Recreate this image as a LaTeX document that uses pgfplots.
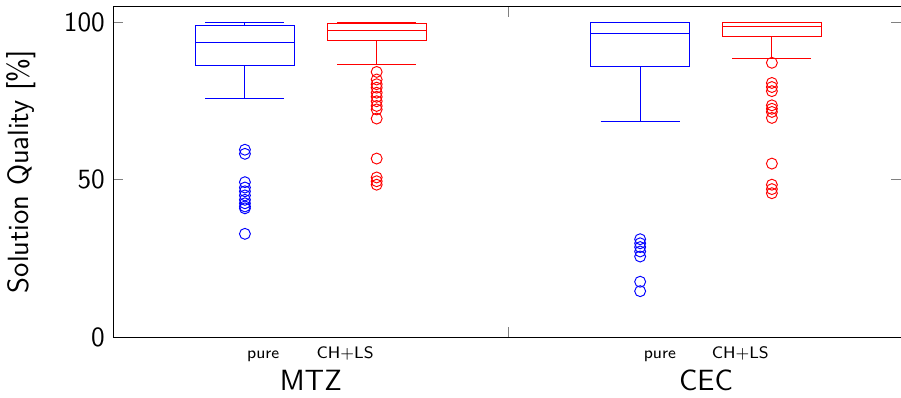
\documentclass[border=0pt]{standalone}
\usepackage{pgfplots}
\pgfplotsset{compat=1.18}
\usepgfplotslibrary{statistics}
\begin{document}
\sffamily
\begin{tikzpicture}
\begin{axis}[
  scale only axis, width=331.3pt, height=139.1pt,
  xmin=0, xmax=5.98, ymin=0, ymax=105,
  xtick={3}, xticklabels={},
  ytick={0,50,100},
  tick label style={font=\fontsize{11.7}{13}\selectfont\sffamily},
  /pgf/number format/assume math mode=true,
  ylabel={Solution Quality [\%]},
  every axis y label/.style={at={(axis description cs:-0.117,0.5)}, rotate=90, anchor=center, font=\fontsize{12.3}{14}\selectfont\sffamily},
  clip=false,
  boxplot/draw direction=y,
  boxplot/box extend=0.75,
  boxplot/whisker extend=0.6,
]
\addplot+[blue, solid, mark=o, mark size=2.3pt, mark options={blue, solid}, boxplot prepared={draw position=1, lower whisker=75.8, lower quartile=86.1, median=93.6, upper quartile=99.1, upper whisker=99.9}]
  coordinates {(0,59.5) (0,58.2) (0,49.2) (0,47.5) (0,46.3) (0,45.0) (0,43.6) (0,42.5) (0,41.5) (0,40.9) (0,32.8)};
\addplot+[red, solid, mark=o, mark size=2.3pt, mark options={red, solid}, boxplot prepared={draw position=2, lower whisker=86.5, lower quartile=94.2, median=97.3, upper quartile=99.5, upper whisker=99.9}]
  coordinates {(0,84.2) (0,81.8) (0,80.3) (0,79.2) (0,77.6) (0,76.3) (0,74.9) (0,73.4) (0,72.3) (0,69.4) (0,56.7) (0,50.7) (0,49.5) (0,48.4)};
\addplot+[blue, solid, mark=o, mark size=2.3pt, mark options={blue, solid}, boxplot prepared={draw position=4, lower whisker=68.6, lower quartile=85.8, median=96.4, upper quartile=99.9, upper whisker=100}]
  coordinates {(0,31.1) (0,29.8) (0,28.6) (0,27.2) (0,25.6) (0,17.6) (0,14.6)};
\addplot+[red, solid, mark=o, mark size=2.3pt, mark options={red, solid}, boxplot prepared={draw position=5, lower whisker=88.4, lower quartile=95.3, median=98.6, upper quartile=99.9, upper whisker=100}]
  coordinates {(0,87.1) (0,80.7) (0,79.4) (0,78.1) (0,73.6) (0,72.5) (0,71.5) (0,69.6) (0,55.1) (0,48.4) (0,47.0) (0,45.7)};
\node[font=\fontsize{7}{8}\selectfont\sffamily, anchor=base] at ([yshift=-8.8pt]axis cs:1.139,0) {pure};
\node[font=\fontsize{7}{8}\selectfont\sffamily, anchor=base] at ([yshift=-8.8pt]axis cs:1.761,0) {CH+LS};
\node[font=\fontsize{7}{8}\selectfont\sffamily, anchor=base] at ([yshift=-8.8pt]axis cs:4.15,0) {pure};
\node[font=\fontsize{7}{8}\selectfont\sffamily, anchor=base] at ([yshift=-8.8pt]axis cs:4.76,0) {CH+LS};
\node[font=\fontsize{12.3}{14}\selectfont\sffamily] at ([yshift=-18.3pt]axis cs:1.5,0) {MTZ};
\node[font=\fontsize{12.3}{14}\selectfont\sffamily] at ([yshift=-18.3pt]axis cs:4.5,0) {CEC};
\end{axis}
\pgfresetboundingbox
\path ([shift={(-47.6pt,-25.3pt)}]current axis.south west) rectangle ([shift={(0pt,2.7pt)}]current axis.north east);
\end{tikzpicture}
\end{document}
